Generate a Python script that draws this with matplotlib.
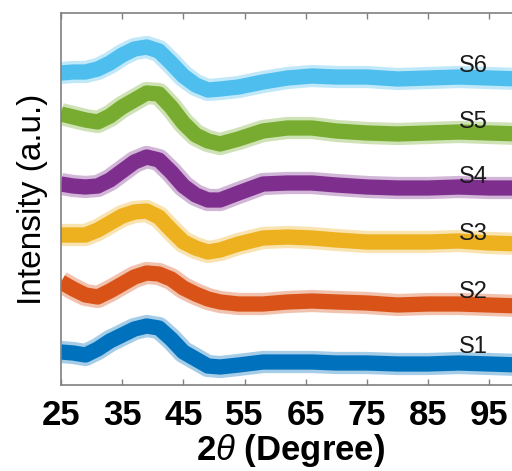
import numpy as np
import matplotlib
matplotlib.use('Agg')
import matplotlib.pyplot as plt

plt.rcParams['font.family'] = ['Liberation Sans', 'DejaVu Sans']
plt.rcParams['mathtext.fontset'] = 'custom'
plt.rcParams['mathtext.it'] = 'Liberation Sans:italic'
plt.rcParams['mathtext.rm'] = 'Liberation Sans'

two_theta = [25, 27, 29, 31, 33, 35, 37, 39, 41, 43, 45, 47, 49, 51, 54,
             58, 62, 66, 70, 75, 80, 85, 90, 95, 100]

# offset intensities (a.u.), one list per sample
s1 = [33, 32, 30, 36, 44, 50, 56, 59, 57, 46, 33, 26, 19, 18, 20,
      23, 23, 23, 22, 22, 21, 21, 22, 21, 20]
s2 = [103, 96, 90, 88, 94, 101, 108, 112, 111, 106, 97, 91, 86, 83, 81,
      81, 83, 84, 83, 82, 80, 81, 81, 80, 79]
s3 = [150, 150, 150, 155, 162, 169, 173, 174, 168, 155, 143, 137, 133, 135, 141,
      147, 148, 147, 145, 143, 143, 143, 144, 142, 141]
s4 = [201, 199, 198, 199, 205, 214, 223, 228, 225, 213, 199, 190, 185, 185, 192,
      201, 202, 202, 200, 198, 197, 197, 198, 197, 197]
s5 = [271, 268, 265, 263, 269, 278, 285, 292, 291, 278, 262, 250, 244, 241, 246,
      254, 257, 257, 254, 252, 251, 252, 253, 252, 251]
s6 = [312, 313, 313, 316, 322, 330, 336, 338, 334, 322, 309, 300, 295, 296, 298,
      303, 307, 309, 308, 308, 306, 307, 308, 307, 306]

names = ['S1', 'S2', 'S3', 'S4', 'S5', 'S6']
series = [s1, s2, s3, s4, s5, s6]
colors = ['#0072BD', '#D95319', '#EDB120', '#7E2F8E', '#77AC30', '#4DBEEE']
label_y = [32, 87, 145, 202, 257, 313]
xticks = [25, 35, 45, 55, 65, 75, 85, 95]

fig = plt.figure(figsize=(5.12, 4.71), dpi=100)
ax = fig.add_axes([61 / 512, 86 / 471, 459 / 512, 372 / 471])

# thick band + faint fringe stands in for the noisy trace
for y, c in zip(series, colors):
    ax.plot(two_theta, y, color=c, lw=16, alpha=0.35, solid_joinstyle='round', solid_capstyle='butt')
    ax.plot(two_theta, y, color=c, lw=11, solid_joinstyle='round', solid_capstyle='butt')

for n, ly in zip(names, label_y):
    ax.text(90.0, ly, n, fontsize=17, color='#1a1a1a', va='baseline', ha='left')

ax.set_xlim(25, 100)
ax.set_ylim(0, 372)
ax.set_xticks(xticks)
ax.set_xticklabels([str(t) for t in xticks], fontsize=25, fontweight='bold')
ax.set_yticks([])
ax.tick_params(axis='x', direction='in', top=True, length=4, width=1, color='#808080', pad=10)
for sp in ax.spines.values():
    sp.set_color('#808080')
    sp.set_linewidth(1.2)

ax.set_xlabel(r'2$\theta$ (Degree)', fontsize=25, fontweight='bold', labelpad=0)
ax.set_ylabel('Intensity (a.u.)', fontsize=24)
ax.yaxis.set_label_coords(-0.028, 0.5)

fig.savefig('out.png', dpi=100)
